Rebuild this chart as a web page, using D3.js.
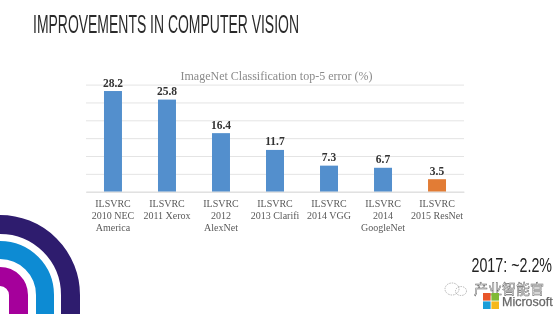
<!DOCTYPE html>
<html>
<head>
<meta charset="utf-8">
<script src="https://cdn.jsdelivr.net/npm/d3@7/dist/d3.min.js"></script>
<style>
html,body{margin:0;padding:0;background:#fff}
svg{display:block}
</style>
</head>
<body>
<svg id="chart" width="560" height="314"></svg>
<script>
const categories = ["ILSVRC 2010 NEC America","ILSVRC 2011 Xerox","ILSVRC 2012 AlexNet","ILSVRC 2013 Clarifi","ILSVRC 2014 VGG","ILSVRC 2014 GoogleNet","ILSVRC 2015 ResNet"];
const categoryLines = [["ILSVRC","2010 NEC","America"],["ILSVRC","2011 Xerox"],["ILSVRC","2012","AlexNet"],["ILSVRC","2013 Clarifi"],["ILSVRC","2014 VGG"],["ILSVRC","2014","GoogleNet"],["ILSVRC","2015 ResNet"]];
const errors = [28.2,25.8,16.4,11.7,7.3,6.7,3.5];
const barColors = ["#528fcd","#528fcd","#528fcd","#528fcd","#528fcd","#528fcd","#e27c36"];
const yTicks = [0,5,10,15,20,25,30];
const slideTitle = "IMPROVEMENTS IN COMPUTER VISION";
const chartTitle = "ImageNet Classification top-5 error (%)";
const note = "2017: ~2.2%";
const watermark = "产业智能官";
const brand = "Microsoft";
const logoRadii = [{r:70.5,w:19,c:"#2e1a6e"},{r:45,w:18,c:"#0b8bd3"},{r:18.5,w:19,c:"#a5009b"}];
const msColors = ["#e8562a","#7fb935","#1f9ed8","#f5b81e"];

const svg = d3.select("#chart");
const defs = svg.append("defs");
defs.append("filter").attr("id","soft").attr("x","-5%").attr("y","-5%").attr("width","110%").attr("height","110%")
  .append("feGaussianBlur").attr("stdDeviation",0.45);

const root = svg.append("g").attr("filter","url(#soft)");
root.append("rect").attr("width",560).attr("height",314).attr("fill","#fff");

// slide title
root.append("text").attr("x",33).attr("y",33).attr("font-family","'Liberation Sans',sans-serif")
  .attr("font-size",25).attr("fill","#2b2b2b").attr("textLength",266).attr("lengthAdjust","spacingAndGlyphs").text(slideTitle);

// chart
const x = d3.scaleBand().domain(categories).range([86,464]).paddingInner(0.667).paddingOuter(0.333);
const y = d3.scaleLinear().domain([0,30]).range([191.7,84.6]);

const grid = root.append("g").attr("transform","translate(86,0)")
  .call(d3.axisLeft(y).tickValues(yTicks).tickSize(-378).tickFormat(""));
grid.select(".domain").remove();
grid.selectAll("line").attr("stroke","#e4e4e4").attr("stroke-width",1);

root.append("text").attr("x",276.5).attr("y",80).attr("text-anchor","middle")
  .attr("font-family","'Liberation Serif',serif").attr("font-size",12).attr("fill","#8a8a8a").text(chartTitle);

root.selectAll("rect.bar").data(errors).join("rect").attr("class","bar")
  .attr("x",(d,i)=>x(categories[i])).attr("width",x.bandwidth())
  .attr("y",d=>y(d)).attr("height",d=>y(0)-y(d))
  .attr("fill",(d,i)=>barColors[i]);

root.selectAll("text.val").data(errors).join("text").attr("class","val")
  .attr("x",(d,i)=>x(categories[i])+x.bandwidth()/2).attr("y",d=>y(d)-4.5)
  .attr("text-anchor","middle").attr("font-family","'Liberation Serif',serif")
  .attr("font-weight","bold").attr("font-size",11.5).attr("fill","#333").text(d=>d.toFixed(1));

const xAxis = root.append("g").attr("transform","translate(0,191.7)")
  .call(d3.axisBottom(x).tickSize(0).tickFormat(""));
xAxis.select(".domain").attr("stroke","#dcdcdc");
xAxis.selectAll(".tick text").each(function(d,i){
  const t = d3.select(this).attr("y",0).attr("dy",null)
    .attr("font-family","'Liberation Serif',serif").attr("font-size",10).attr("fill","#5a5a5a");
  categoryLines[i].forEach((line,j)=>{
    t.append("tspan").attr("x",0).attr("y",15.5+j*12).text(line);
  });
});

// corner logo
const logo = root.append("g");
logoRadii.forEach(a=>{
  const p = d3.path();
  p.moveTo(-2,295-a.r);
  p.lineTo(0,295-a.r);
  p.arc(0,295,a.r,-Math.PI/2,0);
  p.lineTo(a.r,316);
  logo.append("path").attr("d",p.toString()).attr("fill","none").attr("stroke",a.c).attr("stroke-width",a.w);
});

// note
root.append("text").attr("transform","translate(552,272) scale(0.68,1)").attr("text-anchor","end")
  .attr("font-family","'Liberation Sans',sans-serif")
  .attr("font-size",21).attr("fill","#222").text(note);

// watermark
const wm = root.append("g").attr("fill","none").attr("stroke","#9a9a9a").attr("stroke-width",0.7).attr("stroke-dasharray","1.5 1");
wm.append("ellipse").attr("cx",452).attr("cy",289).attr("rx",7).attr("ry",6);
wm.append("ellipse").attr("cx",461).attr("cy",291).attr("rx",5.5).attr("ry",4.5);
root.append("text").attr("x",474).attr("y",293.5).attr("font-family","'Noto Sans CJK SC',sans-serif")
  .attr("font-size",14).attr("fill","#fff").attr("stroke","#666").attr("stroke-width",0.5).text(watermark);

// brand
const s = 7.6, gap = 0.8;
msColors.forEach((c,i)=>{
  root.append("rect").attr("x",483+(i%2)*(s+gap)).attr("y",293+Math.floor(i/2)*(s+gap))
    .attr("width",s).attr("height",s).attr("fill",c);
});
root.append("text").attr("x",502).attr("y",306).attr("font-family","'Liberation Sans',sans-serif")
  .attr("font-size",12.5).attr("fill","#666").attr("stroke","#666").attr("stroke-width",0.25).text(brand);
</script>
</body>
</html>
